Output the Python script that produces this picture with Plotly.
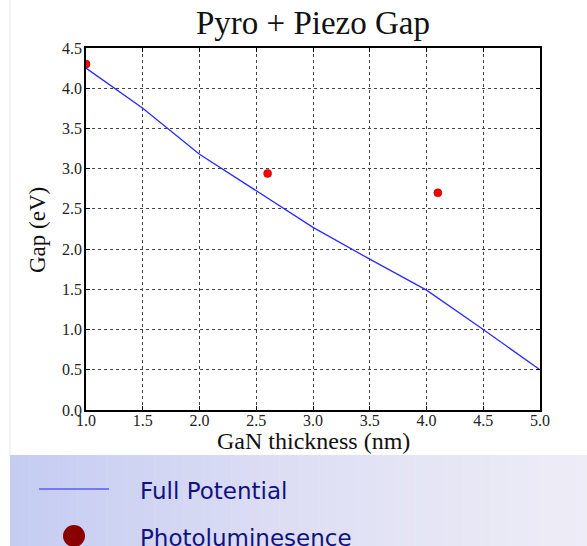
import plotly.graph_objects as go

# Band gap vs GaN thickness
thickness_nm = [1.0, 1.5, 2.0, 2.5, 3.0, 3.5, 4.0, 4.5, 5.0]
gap_full_potential = [4.25, 3.75, 3.18, 2.73, 2.27, 1.875, 1.49, 1.00, 0.50]

pl_thickness_nm = [1.0, 2.6, 4.1]
pl_gap = [4.30, 2.94, 2.70]

x_ticks = [1.0, 1.5, 2.0, 2.5, 3.0, 3.5, 4.0, 4.5, 5.0]
y_ticks = [0.0, 0.5, 1.0, 1.5, 2.0, 2.5, 3.0, 3.5, 4.0, 4.5]

W, H = 587, 546
L, R, T, B = 86, 540, 48, 410


def px(x):
    return (x - L) / (R - L)


def py(y):
    return (B - y) / (B - T)


serif = "Liberation Serif, Times New Roman, serif"

fig = go.Figure()
fig.add_trace(go.Scatter(
    x=thickness_nm, y=gap_full_potential, mode="lines",
    line=dict(color="#2b2bff", width=1.3), showlegend=False,
))
fig.add_trace(go.Scatter(
    x=pl_thickness_nm, y=pl_gap, mode="markers",
    marker=dict(color="#ff0000", size=8, line=dict(color="#a00000", width=0.6)),
    showlegend=False, cliponaxis=True,
))

axis_common = dict(
    showline=True, linecolor="black", linewidth=1.5, mirror="ticks",
    ticks="inside", ticklen=4, tickcolor="black",
    showgrid=True, gridcolor="#444444", griddash="dot", gridwidth=1,
    zeroline=False, tickfont=dict(family=serif, size=16, color="#222222"),
    tickformat=".1f",
)

fig.update_xaxes(range=[1, 5], tickvals=x_ticks, ticklabelstandoff=-5, **axis_common)
fig.update_yaxes(range=[0, 4.5], tickvals=y_ticks, ticklabelstandoff=-1, **axis_common)

shapes = []
# light strip background of the legend band
x0, x1, y0, y1 = 10, 587, 455, 546
stops = [(0.0, (196, 204, 242)), (0.45, (220, 221, 244)), (1.0, (238, 237, 246))]
n = 60
for i in range(n):
    t = (i + 0.5) / n
    for (a, ca), (b, cb) in zip(stops[:-1], stops[1:]):
        if a <= t <= b:
            f = (t - a) / (b - a)
            c = tuple(int(round(ca[k] + (cb[k] - ca[k]) * f)) for k in range(3))
            break
    xa = x0 + (x1 - x0) * i / n
    xb = x0 + (x1 - x0) * (i + 1) / n + 0.5
    shapes.append(dict(type="rect", xref="paper", yref="paper", layer="below",
                       x0=px(xa), x1=px(xb), y0=py(y1), y1=py(y0),
                       line=dict(width=0), fillcolor="rgb(%d,%d,%d)" % c))
# faint page edge
shapes.append(dict(type="line", xref="paper", yref="paper", layer="below",
                   x0=px(10), x1=px(10), y0=py(455), y1=py(0),
                   line=dict(color="#e4e4f4", width=1)))
# legend keys
shapes.append(dict(type="line", xref="paper", yref="paper",
                   x0=px(39), x1=px(109), y0=py(489), y1=py(489),
                   line=dict(color="#5a5aff", width=1.5)))
shapes.append(dict(type="circle", xref="paper", yref="paper",
                   x0=px(63), x1=px(85), y0=py(547), y1=py(525),
                   fillcolor="#8b0000", line=dict(color="#8b0000", width=0)))

annotations = [
    dict(text="Pyro + Piezo Gap", xref="paper", yref="paper", x=px(313), y=py(23),
         xanchor="center", yanchor="middle", showarrow=False,
         font=dict(family=serif, size=33, color="#111111")),
    dict(text="GaN thickness (nm)", xref="paper", yref="paper", x=px(313), y=py(441),
         xanchor="center", yanchor="middle", showarrow=False,
         font=dict(family=serif, size=24, color="#111111")),
    dict(text="Gap (eV)", xref="paper", yref="paper", x=px(38), y=py(230),
         xanchor="center", yanchor="middle", showarrow=False, textangle=-90,
         font=dict(family=serif, size=23, color="#111111")),
    dict(text="Full Potential", xref="paper", yref="paper", x=px(138), y=py(491),
         xanchor="left", yanchor="middle", showarrow=False,
         font=dict(family="DejaVu Sans", size=23, color="#12127e")),
    dict(text="Photoluminesence", xref="paper", yref="paper", x=px(138), y=py(538),
         xanchor="left", yanchor="middle", showarrow=False,
         font=dict(family="DejaVu Sans", size=23, color="#12127e")),
]

fig.update_layout(
    width=W, height=H,
    margin=dict(l=L, r=W - R, t=T, b=H - B, autoexpand=False),
    paper_bgcolor="white", plot_bgcolor="white",
    shapes=shapes, annotations=annotations, showlegend=False,
)

fig.write_html("out.html")
